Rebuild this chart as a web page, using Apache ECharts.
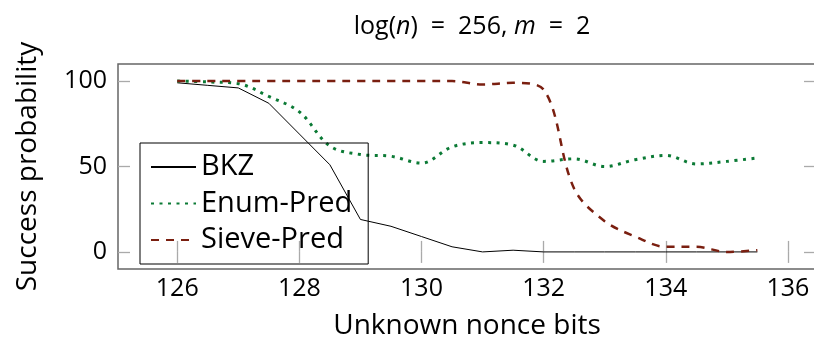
<!DOCTYPE html>
<html>
<head>
<meta charset="utf-8">
<script src="https://cdn.jsdelivr.net/npm/echarts@6/dist/echarts.min.js"></script>
<style>
  html, body { margin: 0; padding: 0; background: #fff; overflow: hidden; }
  #chart { width: 840px; height: 345px; }
</style>
</head>
<body>
<div id="chart"></div>
<script>
const nonceBits = [126, 126.5, 127, 127.5, 128, 128.5, 129, 129.5, 130, 130.5,
  131, 131.5, 132, 132.5, 133, 133.5, 134, 134.5, 135, 135.5];
const bkz = [99, 97.5, 96, 87, 69, 51, 19, 15, 9, 3, 0, 1, 0, 0, 0, 0, 0, 0, 0, 0];
const enumPred = [100, 99.5, 98.5, 91, 82, 62, 57, 56, 52, 61.5, 64, 62.5, 53, 54.5, 50, 54, 56.5, 51.5, 53, 55];
const sievePred = [100, 100, 100, 100, 100, 100, 100, 100, 100, 100, 98, 99, 95, 37, 18, 9, 3, 3, 0, 1];
const xTicks = [126, 128, 130, 132, 134, 136];
const yTicks = [0, 50, 100];

// the plot box runs past the right edge of the 814px picture, so the
// chart div is a bit wider and the page clips it
const chart = echarts.init(document.getElementById("chart"));
const font = "Open Sans";
const pts = (ys) => nonceBits.map((x, i) => [x, ys[i]]);

const tick = { show: true, inside: true, length: 11, lineStyle: { color: "#aaa", width: 1.3 } };

chart.setOption({
  animation: false,
  title: {
    text: "log({i|n})  =  256, {i|m}  =  2",
    left: 467,
    textAlign: "center",
    top: 9,
    textStyle: {
      fontFamily: font,
      fontSize: 25,
      fontWeight: "normal",
      color: "#000",
      rich: { i: { fontFamily: font, fontSize: 25, fontStyle: "italic", color: "#000" } },
    },
  },
  grid: {
    left: 118,
    top: 64,
    width: 698,
    height: 207,
    show: true,
    borderColor: "#666",
    borderWidth: 1.5,
  },
  legend: {
    orient: "vertical",
    left: 140,
    top: 143,
    padding: [9.5, 16, 9.5, 10],
    borderColor: "#000",
    borderWidth: 1,
    itemWidth: 45,
    itemHeight: 14,
    itemGap: 7.5,
    itemStyle: { color: "transparent", borderWidth: 0 },
    textStyle: { fontFamily: font, fontSize: 29, color: "#000" },
    data: ["BKZ", "Enum-Pred", "Sieve-Pred"],
  },
  xAxis: [
    {
      type: "value",
      min: 125.03,
      max: 136.46,
      name: "Unknown nonce bits",
      nameLocation: "middle",
      nameGap: 43,
      nameTextStyle: { fontFamily: font, fontSize: 28, color: "#000" },
      axisLine: { show: false },
      axisTick: { ...tick, customValues: xTicks },
      axisLabel: { customValues: xTicks, margin: 7, fontFamily: font, fontSize: 25, color: "#000" },
      splitLine: { show: false },
    },
    {
      type: "value",
      position: "top",
      min: 125.03,
      max: 136.46,
      axisLine: { show: false },
      axisTick: { ...tick, customValues: xTicks },
      axisLabel: { show: false, customValues: xTicks },
      splitLine: { show: false },
    },
  ],
  yAxis: [
    {
      type: "value",
      min: -10,
      max: 110,
      name: "Success probability",
      nameLocation: "middle",
      nameGap: 76,
      nameTextStyle: { fontFamily: font, fontSize: 28, color: "#000" },
      axisLine: { show: false },
      axisTick: { ...tick, length: 12, customValues: yTicks },
      axisLabel: { customValues: yTicks, margin: 11, fontFamily: font, fontSize: 25, color: "#000" },
      splitLine: { show: false },
    },
    {
      type: "value",
      position: "right",
      min: -10,
      max: 110,
      axisLine: { show: false },
      axisTick: { ...tick, length: 12, customValues: yTicks },
      axisLabel: { show: false, customValues: yTicks },
      splitLine: { show: false },
    },
  ],
  series: [
    {
      name: "BKZ",
      type: "line",
      data: pts(bkz),
      symbol: "none",
      itemStyle: { color: "#000" },
      lineStyle: { color: "#000", width: 1 },
    },
    {
      name: "Enum-Pred",
      type: "line",
      data: pts(enumPred),
      symbol: "none",
      smooth: 0.35,
      itemStyle: { color: "#0b7a35" },
      lineStyle: { color: "#0b7a35", width: 3, type: [3, 5.5] },
    },
    {
      name: "Sieve-Pred",
      type: "line",
      data: pts(sievePred),
      symbol: "none",
      smooth: 0.35,
      itemStyle: { color: "#7a1f10" },
      lineStyle: { color: "#7a1f10", width: 2.5, type: [8, 7] },
    },
  ],
});
</script>
</body>
</html>
